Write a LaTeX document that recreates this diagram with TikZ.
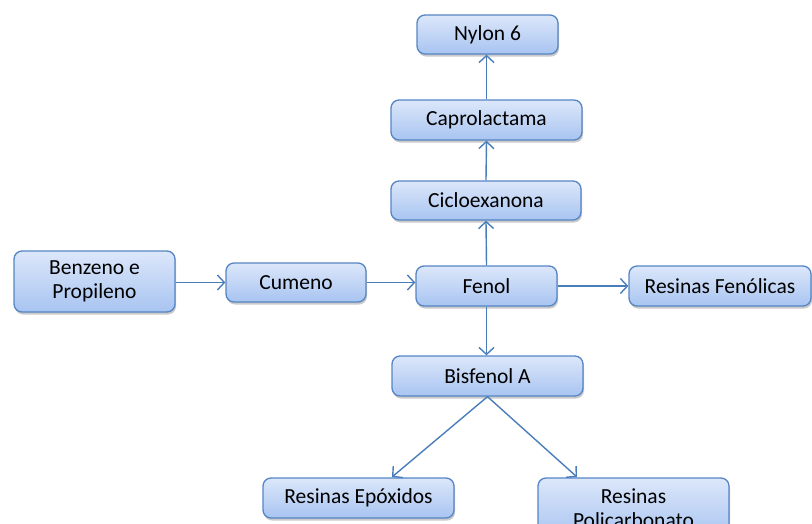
\documentclass[tikz,border=0pt]{standalone}
\usepackage{fontspec}
\setmainfont{Carlito}
\usetikzlibrary{arrows.meta,shadows}
\definecolor{boxtop}{HTML}{DCE7FA}
\definecolor{boxbot}{HTML}{A8C4F1}
\definecolor{boxline}{HTML}{5585C4}
\definecolor{arr}{HTML}{4A7EBB}
\begin{document}
\begin{tikzpicture}[x=1pt,y=-1pt,
  pbox/.style={draw=boxline, line width=1.3pt, rounded corners=8pt,
    top color=boxtop, bottom color=boxbot, align=center,
    inner sep=0pt, font=\fontsize{21.5}{24}\selectfont,
    drop shadow={shadow xshift=1pt, shadow yshift=-2.5pt, opacity=0.35, fill=black!60}},
  conn/.style={draw=arr, line width=1.4pt, -{Straight Barb[length=7pt,width=15pt,line width=1.4pt]}}]
\useasboundingbox (0,0) rectangle (812,523);
\node[pbox, minimum width=141pt, minimum height=39pt] (nylon) at (487.5,34.5) {Nylon 6};
\node[pbox, minimum width=191pt, minimum height=40pt] (capro) at (486.5,120) {Caprolactama};
\node[pbox, minimum width=190pt, minimum height=39pt] (ciclo) at (486,200.5) {Cicloexanona};
\node[pbox, minimum width=161pt, minimum height=61pt] (benz) at (94.5,281.5) {Benzeno e\\Propileno};
\node[pbox, minimum width=140pt, minimum height=39pt] (cum) at (296,282.5) {Cumeno};
\node[pbox, minimum width=141pt, minimum height=40pt] (fenol) at (486.5,286) {Fenol};
\node[pbox, minimum width=182pt, minimum height=40pt] (rfen) at (720,286) {Resinas Fenólicas};
\node[pbox, minimum width=191pt, minimum height=40pt] (bis) at (487.5,376) {Bisfenol A};
\node[pbox, minimum width=191pt, minimum height=40pt] (repox) at (358.5,498) {Resinas Epóxidos};
\node[pbox, minimum width=191pt, minimum height=61pt] (rpoli) at (633.5,508.5) {Resinas\\Policarbonato};
\coordinate (ep) at (392,477);
\coordinate (pp) at (577,477);
\draw[conn] (benz.east |- cum) -- (cum.west);
\draw[conn] (cum.east) -- (fenol.west |- cum);
\draw[conn] (fenol.east) -- (rfen.west);
\draw[conn] (fenol.north) -- (ciclo.south);
\draw[conn] (ciclo.north) -- (capro.south);
\draw[conn] (capro.north) -- (capro.north |- nylon.south);
\draw[conn] (fenol.south) -- (fenol.south |- bis.north);
\draw[conn] (bis.south) -- (ep);
\draw[conn] (bis.south) -- (pp);
\end{tikzpicture}
\end{document}
